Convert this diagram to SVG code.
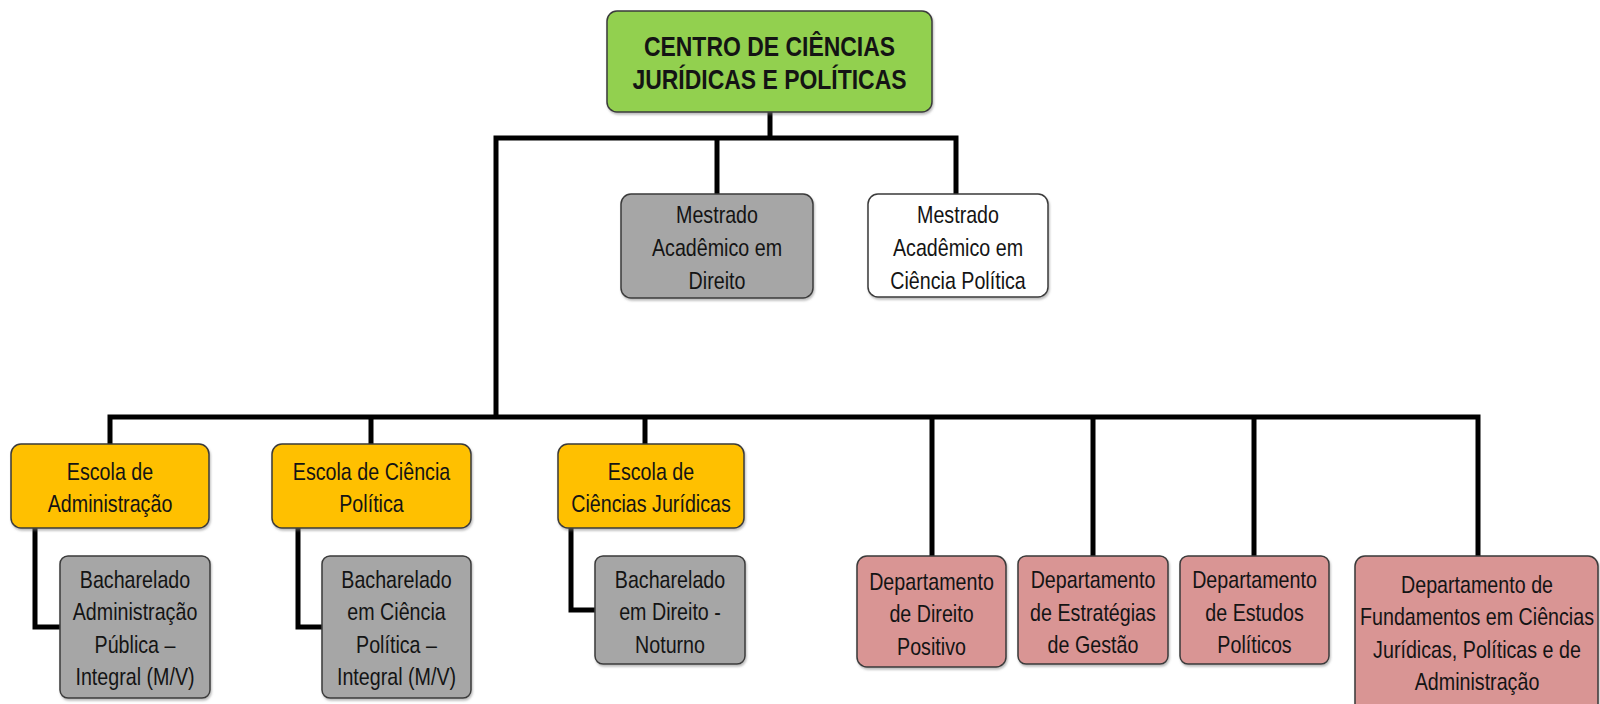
<svg xmlns="http://www.w3.org/2000/svg" width="1600" height="704" viewBox="0 0 1600 704">
<style>
.box{stroke:#3a3a3a;stroke-width:1.5;filter:url(#sh)}
.green{fill:#92d050}.gold{fill:#ffc000}.gray{fill:#a6a6a6}.white{fill:#ffffff}.pink{fill:#d99594}
text{font-family:"Liberation Sans",Arial,sans-serif;font-size:24px;fill:#141414;text-anchor:middle}
.title{font-size:28px;font-weight:bold}
.conn{fill:none;stroke:#000;stroke-width:5;stroke-linejoin:miter}
</style>
<defs>
<filter id="sh" x="-10%" y="-10%" width="120%" height="130%">
<feDropShadow dx="1" dy="2" stdDeviation="1" flood-color="#777" flood-opacity="0.5"/>
</filter>
</defs>
<rect width="1600" height="704" fill="#fff"/>
<g id="connectors">
<path class="conn" d="M770,112 V138"/>
<path class="conn" d="M496,417 V138 H956 V194"/>
<path class="conn" d="M717,138 V194"/>
<path class="conn" d="M110,444 V417 H1478 V556"/>
<path class="conn" d="M371,417 V444"/>
<path class="conn" d="M645,417 V444"/>
<path class="conn" d="M932,417 V556"/>
<path class="conn" d="M1093,417 V556"/>
<path class="conn" d="M1254,417 V556"/>
<path class="conn" d="M35,528 V627 H60"/>
<path class="conn" d="M298,528 V627 H322"/>
<path class="conn" d="M571,528 V610 H595"/>
</g>
<g id="centro">
<rect class="box green" x="607" y="11" width="325" height="101" rx="10"/>
<text class="title" transform="translate(769.5,56) scale(0.82,1)">CENTRO DE CIÊNCIAS</text>
<text class="title" transform="translate(769.5,89) scale(0.82,1)">JURÍDICAS E POLÍTICAS</text>
</g>
<g id="mestrado-direito">
<rect class="box gray" x="621" y="194" width="192" height="104" rx="10"/>
<text transform="translate(717,223) scale(0.82,1)">Mestrado</text>
<text transform="translate(717,256) scale(0.82,1)">Acadêmico em</text>
<text transform="translate(717,289) scale(0.82,1)">Direito</text>
</g>
<g id="mestrado-ciencia-politica">
<rect class="box white" x="868" y="194" width="180" height="103" rx="10"/>
<text transform="translate(958,223) scale(0.82,1)">Mestrado</text>
<text transform="translate(958,256) scale(0.82,1)">Acadêmico em</text>
<text transform="translate(958,289) scale(0.82,1)">Ciência Política</text>
</g>
<g id="escola-administracao">
<rect class="box gold" x="11" y="444" width="198" height="84" rx="10"/>
<text transform="translate(110,480) scale(0.82,1)">Escola de</text>
<text transform="translate(110,512) scale(0.82,1)">Administração</text>
</g>
<g id="escola-ciencia-politica">
<rect class="box gold" x="272" y="444" width="199" height="84" rx="10"/>
<text transform="translate(371.5,480) scale(0.82,1)">Escola de Ciência</text>
<text transform="translate(371.5,512) scale(0.82,1)">Política</text>
</g>
<g id="escola-ciencias-juridicas">
<rect class="box gold" x="558" y="444" width="186" height="84" rx="10"/>
<text transform="translate(651,480) scale(0.82,1)">Escola de</text>
<text transform="translate(651,512) scale(0.82,1)">Ciências Jurídicas</text>
</g>
<g id="bach-administracao">
<rect class="box gray" x="60" y="556" width="150" height="142" rx="8"/>
<text transform="translate(135,588) scale(0.82,1)">Bacharelado</text>
<text transform="translate(135,620) scale(0.82,1)">Administração</text>
<text transform="translate(135,653) scale(0.82,1)">Pública –</text>
<text transform="translate(135,685) scale(0.82,1)">Integral (M/V)</text>
</g>
<g id="bach-ciencia-politica">
<rect class="box gray" x="322" y="556" width="149" height="142" rx="8"/>
<text transform="translate(396.5,588) scale(0.82,1)">Bacharelado</text>
<text transform="translate(396.5,620) scale(0.82,1)">em Ciência</text>
<text transform="translate(396.5,653) scale(0.82,1)">Política –</text>
<text transform="translate(396.5,685) scale(0.82,1)">Integral (M/V)</text>
</g>
<g id="bach-direito">
<rect class="box gray" x="595" y="556" width="150" height="108" rx="8"/>
<text transform="translate(670,588) scale(0.82,1)">Bacharelado</text>
<text transform="translate(670,620) scale(0.82,1)">em Direito -</text>
<text transform="translate(670,653) scale(0.82,1)">Noturno</text>
</g>
<g id="dep-direito-positivo">
<rect class="box pink" x="857" y="556" width="149" height="111" rx="10"/>
<text transform="translate(931.5,590) scale(0.82,1)">Departamento</text>
<text transform="translate(931.5,622) scale(0.82,1)">de Direito</text>
<text transform="translate(931.5,655) scale(0.82,1)">Positivo</text>
</g>
<g id="dep-estrategias">
<rect class="box pink" x="1018" y="556" width="150" height="108" rx="8"/>
<text transform="translate(1093,588) scale(0.82,1)">Departamento</text>
<text transform="translate(1093,621) scale(0.82,1)">de Estratégias</text>
<text transform="translate(1093,653) scale(0.82,1)">de Gestão</text>
</g>
<g id="dep-estudos-politicos">
<rect class="box pink" x="1180" y="556" width="149" height="108" rx="8"/>
<text transform="translate(1254.5,588) scale(0.82,1)">Departamento</text>
<text transform="translate(1254.5,621) scale(0.82,1)">de Estudos</text>
<text transform="translate(1254.5,653) scale(0.82,1)">Políticos</text>
</g>
<g id="dep-fundamentos">
<rect class="box pink" x="1355" y="556" width="243" height="160" rx="10"/>
<text transform="translate(1477,593) scale(0.82,1)">Departamento de</text>
<text transform="translate(1477,625) scale(0.82,1)">Fundamentos em Ciências</text>
<text transform="translate(1477,658) scale(0.82,1)">Jurídicas, Políticas e de</text>
<text transform="translate(1477,690) scale(0.82,1)">Administração</text>
</g>
</svg>
